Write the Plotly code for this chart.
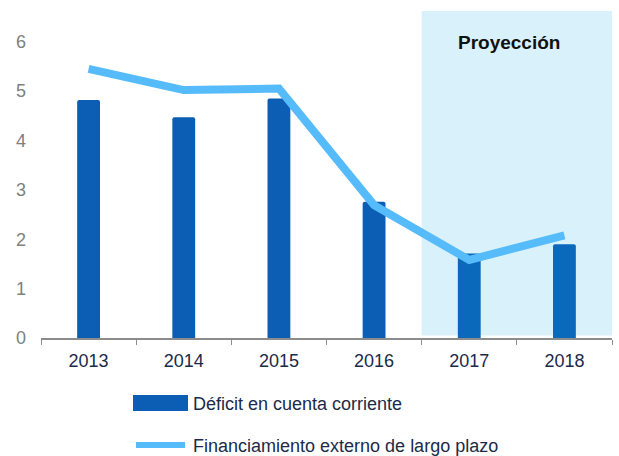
import plotly.graph_objects as go

years = ["2013", "2014", "2015", "2016", "2017", "2018"]
deficit = [4.82, 4.47, 4.85, 2.76, 1.71, 1.90]
financiamiento = [5.45, 5.02, 5.05, 2.69, 1.58, 2.08]
projected = [False, False, False, False, True, True]
y_ticks = [0, 1, 2, 3, 4, 5, 6]

bar_colors = ["#0a69bb" if p else "#0b5eb3" for p in projected]

L, R, T, B = 41, 7, 11, 118
W, H = 619, 456
PW, PH = W - L - R, H - T - B


def px_x(x):
    return (x - L) / PW


def px_y(y):
    return (H - B - y) / PH


fig = go.Figure()
fig.add_trace(go.Bar(x=years, y=deficit, name="Déficit en cuenta corriente",
                     marker=dict(color=bar_colors, line=dict(width=0)), width=0.24))
fig.add_trace(go.Scatter(x=years, y=financiamiento, name="Financiamiento externo de largo plazo",
                         mode="lines", line=dict(color="#55bbfb", width=8)))

# projection shading
fig.add_shape(type="rect", xref="x", yref="paper", x0=3.5, x1=5.5, y0=0.008, y1=1,
              fillcolor="#d9f1fa", line=dict(width=0), layer="below")
fig.add_annotation(x=px_x(509), y=px_y(42), xref="paper", yref="paper",
                   xanchor="center", yanchor="middle", text="<b>Proyección</b>",
                   showarrow=False, font=dict(size=19, color="#111111",
                                              family="Liberation Sans, Arial"))

# custom legend
leg_font = dict(size=18, color="#1b2a4a", family="Liberation Sans, Arial")
fig.add_shape(type="rect", xref="paper", yref="paper",
              x0=px_x(133), x1=px_x(188), y0=px_y(411), y1=px_y(395),
              fillcolor="#0b5eb3", line=dict(width=0))
fig.add_shape(type="line", xref="paper", yref="paper",
              x0=px_x(136), x1=px_x(185), y0=px_y(445), y1=px_y(445),
              line=dict(color="#55bbfb", width=6))
fig.add_annotation(xref="paper", yref="paper", x=px_x(191), y=px_y(404),
                   xanchor="left", yanchor="middle", showarrow=False,
                   text="Déficit en cuenta corriente", font=leg_font)
fig.add_annotation(xref="paper", yref="paper", x=px_x(191), y=px_y(446),
                   xanchor="left", yanchor="middle", showarrow=False,
                   text="Financiamiento externo de largo plazo", font=leg_font)

fig.update_layout(
    width=W, height=H,
    margin=dict(l=L, r=R, t=T, b=B),
    plot_bgcolor="white", paper_bgcolor="white",
    showlegend=False,
    font=dict(family="Liberation Sans, Arial"),
    xaxis=dict(type="category", showline=True, linecolor="#8c8c8c", linewidth=1.5,
               ticks="outside", tickson="boundaries", ticklen=5, tickcolor="#8c8c8c",
               tickfont=dict(size=18, color="#1b2a4a"), showgrid=False, zeroline=False,
               automargin=False, ticklabelstandoff=6),
    yaxis=dict(range=[0, 6.62], tickvals=y_ticks, showgrid=False, zeroline=False,
               showline=False, tickfont=dict(size=18, color="#808080"), ticks="",
               automargin=False, ticklabelstandoff=14),
    bargap=0.75,
    barcornerradius=2,
)

fig.write_html("out.html", config={"displayModeBar": False},
               post_script="document.body.style.margin='0';")
